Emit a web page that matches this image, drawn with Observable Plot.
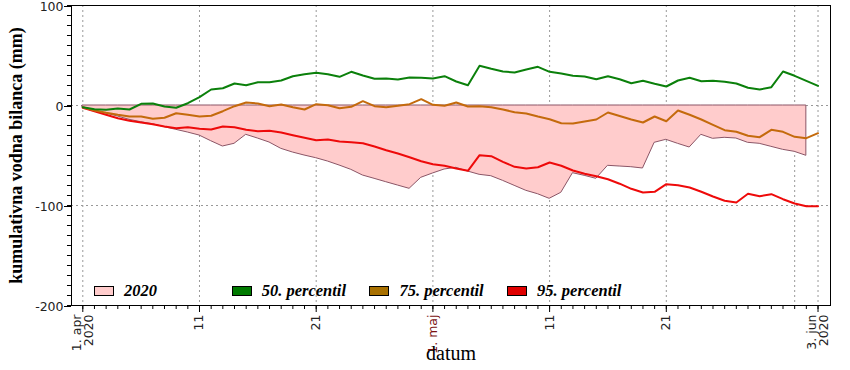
<!DOCTYPE html>
<html><head><meta charset="utf-8">
<script src="https://cdn.jsdelivr.net/npm/d3@7"></script>
<script src="https://cdn.jsdelivr.net/npm/@observablehq/plot@0.6"></script>
<style>
body{margin:0;background:#fff;}
#wrap{position:relative;width:850px;height:370px;}
#legend{position:absolute;left:94px;top:281px;display:flex;font:italic bold 16.5px "Liberation Serif",serif;color:#000;}
.item{width:137.7px;display:flex;align-items:center;white-space:nowrap;}
.sw{width:18px;height:8px;border:1px solid #000;margin-right:10px;box-sizing:content-box;}
</style></head>
<body><div id="wrap"></div>
<script>
// daily values from 1. apr 2020
const p50 = [-1.7,-3.7,-4.3,-3,-4,1.7,2,-1,-2.3,2.3,8.3,16,17.3,22,20.3,23.3,23.3,25,29.3,31.3,32.7,31.3,28.7,33.7,30,26.7,27,26,28,27.7,27,29.3,24,20.3,39.7,36.7,34,33,36,38.7,33.7,32,29.7,29,26.3,29.3,26.3,22.3,24.7,21.7,19,25,27.7,24.3,24.7,23.7,22,17.7,16,18.3,34,29.7,24.7,19.7];
const p75 = [-1.7,-5,-7.3,-9.3,-11,-11,-13.3,-12.3,-7.7,-9.3,-11,-10.3,-5.7,-0.7,3,2,-0.7,1,-1.7,-4,1.3,0.3,-2.7,-1.3,4.3,-0.7,-1.7,-0.3,1.3,6.3,0.7,-0.3,3,-1,-0.7,-1.7,-4,-6.7,-8,-11,-13.7,-17.7,-18,-16,-14,-7,-10.5,-14,-17,-11,-15.7,-5,-9.3,-14,-19.3,-24.7,-26.3,-30.3,-31.7,-24.3,-26.3,-31.3,-32.7,-27.7];
const p95 = [-2.3,-5.7,-9.3,-12.7,-15.3,-17,-18.7,-21,-22.7,-21.7,-23.3,-24,-21,-21.7,-24.3,-25.7,-25.3,-27,-29.7,-32.3,-34.7,-34,-36,-36.7,-37.7,-41,-44.7,-48,-51.7,-55.7,-58.7,-60.3,-63,-65.3,-49.7,-50.7,-56.3,-61.3,-63,-61.7,-57,-60.3,-65,-68.3,-70.7,-73.7,-78.2,-83.3,-87,-86.3,-78.7,-79.7,-82,-86.3,-91,-95.3,-97,-88.3,-90.7,-88.7,-93.7,-98,-100.7,-100.7];
const y2020 = [-2.3,-5,-8,-11,-14.3,-16.7,-18.7,-21.7,-24.3,-27,-30,-35.7,-41,-38.3,-29.3,-33,-37,-43.3,-47,-50,-52.7,-56,-60,-64.3,-70,-73.3,-76.7,-80,-83.3,-72.3,-68,-64,-62.3,-66,-69.3,-70.7,-75.3,-80.3,-85.3,-88.7,-93.3,-87.3,-67.7,-70.3,-73.3,-60.3,-61,-61.7,-63,-37.3,-34.3,-38.3,-42,-29.3,-33.3,-32.3,-33,-37.3,-38.3,-41.3,-44.3,-46.3,-50.3];

const majorTicks = ["2020-04-01","2020-04-11","2020-04-21","2020-05-01","2020-05-11","2020-05-21","2020-06-03"];
const majorLabels = ["1. apr\n2020","11","21","1. maj","11","21","3. jun\n2020"];
const gridTicks = ["2020-04-01","2020-04-11","2020-04-21","2020-05-01","2020-05-11","2020-05-21","2020-06-01","2020-06-03"];
const yTicks = [100, 0, -100, -200];
const seriesNames = ["2020","50. percentil","75. percentil","95. percentil"];
const seriesColors = ["#ffcccc","#007a00","#a87000","#e00000"];
const lineColors = {p50:"#0b800b", p75:"#c46a0c", p95:"#ee0a0a"};

const days = d3.utcDay.range(new Date("2020-04-01"), new Date("2020-06-04"));
const toRows = arr => arr.map((v, i) => ({date: days[i], value: v}));
const r50 = toRows(p50), r75 = toRows(p75), r95 = toRows(p95), r20 = toRows(y2020);

const major = majorTicks.map(s => new Date(s));
const labelOf = new Map(major.map((d, i) => [+d, majorLabels[i]]));
const mayFirst = +new Date("2020-05-01");
const tickFont = {fontSize: 12.5, fontFamily: "DejaVu Sans, sans-serif", fill: "#222"};

const chart = Plot.plot({
  width: 850, height: 370,
  marginLeft: 71, marginRight: 20, marginTop: 5, marginBottom: 65,
  style: {background: "white", overflow: "visible"},
  x: {type: "utc", domain: [new Date(Date.UTC(2020,2,31,0,46)), new Date(Date.UTC(2020,5,4,1,40))], label: null},
  y: {domain: [-200, 100], label: null},
  marks: [
    Plot.gridX({ticks: gridTicks.map(s => new Date(s)), stroke: "#999", strokeOpacity: 1, strokeDasharray: "2,3"}),
    Plot.gridY({ticks: [0, -100], stroke: "#999", strokeOpacity: 1, strokeDasharray: "2,3"}),
    Plot.areaY(r20, {x: "date", y1: 0, y2: "value", fill: "#ffcccc", stroke: "#8b5566", strokeWidth: 1}),
    Plot.lineY(r95, {x: "date", y: "value", stroke: lineColors.p95, strokeWidth: 2}),
    Plot.lineY(r75, {x: "date", y: "value", stroke: lineColors.p75, strokeWidth: 2}),
    Plot.lineY(r50, {x: "date", y: "value", stroke: lineColors.p50, strokeWidth: 2}),
    Plot.frame({stroke: "black"}),
    Plot.axisY({ticks: d3.range(-200, 101, 10), tickSize: 4, fill: "none", label: null}),
    Plot.axisY({ticks: yTicks, tickSize: 7, tickPadding: 1, dy: 1, tickFormat: d => String(d), label: null, ...tickFont}),
    Plot.axisX({ticks: days, tickSize: 4, fill: "none", label: null}),
    Plot.axisX({ticks: major.filter(d => +d !== mayFirst), tickSize: 7, tickPadding: 2, tickRotate: -90,
      textAnchor: "end", lineAnchor: "middle", tickFormat: d => labelOf.get(+d), label: null, ...tickFont}),
    Plot.axisX({ticks: major.filter(d => +d === mayFirst), tickSize: 7, tickPadding: 2, tickRotate: -90,
      textAnchor: "end", lineAnchor: "middle", tickFormat: d => labelOf.get(+d), label: null, ...tickFont, fill: "#7a1010"}),
    Plot.text(["datum"], {text: d => d, frameAnchor: "bottom", dy: 54, fontSize: 20, fontFamily: "Liberation Serif, serif", fill: "#000"}),
    Plot.text(["kumulativna vodna bilanca (mm)"], {text: d => d, frameAnchor: "left", dx: -55, rotate: -90, textAnchor: "middle", lineAnchor: "middle", fontSize: 18, fontWeight: "bold", fontFamily: "Liberation Serif, serif", fill: "#000"})
  ]
});

const wrap = document.getElementById("wrap");
wrap.appendChild(chart);
const legend = document.createElement("div");
legend.id = "legend";
seriesNames.forEach((name, i) => {
  const item = document.createElement("div");
  item.className = "item";
  const sw = document.createElement("span");
  sw.className = "sw";
  sw.style.background = seriesColors[i];
  const t = document.createElement("span");
  t.textContent = name;
  item.appendChild(sw); item.appendChild(t);
  legend.appendChild(item);
});
wrap.appendChild(legend);
</script>
</body></html>
